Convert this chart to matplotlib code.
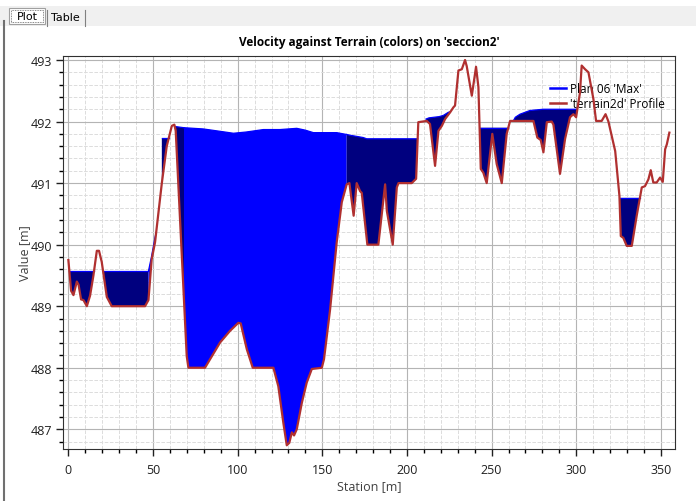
import matplotlib
matplotlib.use('Agg')
import matplotlib.pyplot as plt
from matplotlib.patches import Rectangle
from matplotlib.lines import Line2D
from matplotlib.ticker import MultipleLocator

plt.rcParams['font.family'] = ['Open Sans', 'DejaVu Sans']

# terrain profile (station [m], elevation [m])
station = [0, 1.6, 3.0, 5.0, 6.0, 7.5, 8.9, 10.9, 12.8, 14.8, 16.8, 18.1, 19.7, 22.7, 25.6,
           45.3, 47.3, 49.2, 51.2, 55.2, 58.1, 61.1, 62.6, 63.4, 68.3, 69.9, 70.9, 80.7,
           89.6, 95.5, 100.4, 101.8, 105.4, 108.9, 121.1, 124.0, 127.0, 129.0, 130.5, 132.0,
           133.3, 134.9, 137.9, 140.8, 143.8, 149.7, 151.0, 154.6, 158.5, 161.5, 164.4, 166.0,
           168.5, 170.3, 172.3, 173.3, 176.6, 183.1, 187.1, 188.1, 191.6, 194.0, 195.0, 202.8,
           205.4, 206.7, 211.7, 213.6, 216.6, 218.6, 220.6, 222.5, 225.5, 227.4, 228.4, 230.4,
           232.4, 234.3, 235.3, 238.3, 240.8, 242.2, 243.6, 245.1, 247.1, 250.4, 253.0, 256.0,
           258.9, 260.9, 274.7, 277.0, 279.0, 280.6, 282.6, 285.5, 286.5, 290.4, 293.4, 296.3,
           298.3, 299.9, 302.2, 303.2, 305.2, 307.2, 310.1, 311.7, 315.0, 317.3, 319.0, 323.0,
           325.5, 326.3, 327.8, 329.8, 332.8, 335.7, 338.7, 340.6, 342.6, 344.0, 345.5, 347.5,
           349.5, 351.1, 352.5, 353.5, 355.0]
elevation = [489.75, 489.25, 489.18, 489.40, 489.35, 489.11, 489.10, 489.00, 489.17, 489.50,
             489.90, 489.90, 489.72, 489.15, 489.00, 489.00, 489.10, 489.76, 490.04, 491.00,
             491.60, 491.93, 491.95, 491.85, 489.09, 488.19, 488.00, 488.00, 488.41, 488.60,
             488.73, 488.72, 488.30, 488.00, 488.00, 487.70, 487.10, 486.74, 486.78, 486.95,
             486.90, 487.00, 487.43, 487.76, 487.98, 488.00, 488.14, 488.95, 490.04, 490.69,
             490.98, 491.00, 490.47, 491.00, 490.87, 490.84, 490.00, 490.00, 490.98, 490.55,
             490.00, 490.93, 491.00, 491.00, 491.07, 491.99, 492.01, 491.96, 491.28, 491.85,
             491.93, 492.04, 492.15, 492.23, 492.26, 492.83, 492.85, 493.00, 492.90, 492.42,
             492.89, 492.56, 491.23, 491.17, 491.00, 491.80, 491.31, 491.00, 491.80, 492.01,
             492.01, 491.74, 491.70, 491.50, 491.99, 492.00, 491.95, 491.15, 491.72, 492.07,
             492.12, 492.07, 492.47, 492.91, 492.85, 492.80, 492.37, 492.01, 492.01, 492.12,
             492.00, 491.52, 490.79, 490.14, 490.11, 489.98, 489.98, 490.47, 490.93, 490.95,
             491.06, 491.21, 491.01, 491.01, 491.09, 491.02, 491.55, 491.63, 491.82]

# max water surface, one list per wet area, and whether velocity is high there
pool_x = [[0.58, 15.15],
          [20.5, 47.3],
          [47.3, 49.2, 51.2, 51.9],
          [55.2, 59.3],
          [62.85, 68.3],
          [68.3, 79.7, 90.0, 97.5, 105.0, 115.2, 125.0, 134.9, 140.0, 144.7, 158.5, 164.4],
          [164.4, 166.0, 174.2, 176.2, 204.8, 206.3],
          [211.2, 213.0, 216.0, 219.0, 221.5, 224.4, 225.5],
          [242.9, 259.8],
          [263.0, 264.0, 266.8, 272.7, 280.6, 297.4, 300.6],
          [325.55, 337.5]]
pool_wse = [[489.57, 489.57],
            [489.57, 489.57],
            [489.57, 489.82, 490.12, 490.20],
            [491.73, 491.73],
            [491.92, 491.90],
            [491.90, 491.88, 491.84, 491.81, 491.83, 491.87, 491.87, 491.89, 491.86, 491.82, 491.82, 491.79],
            [491.79, 491.78, 491.74, 491.72, 491.72, 491.72],
            [492.04, 492.06, 492.07, 492.08, 492.10, 492.15, 492.16],
            [491.90, 491.90],
            [492.02, 492.07, 492.12, 492.18, 492.20, 492.20, 492.20],
            [490.76, 490.76]]
pool_fast = [False, False, True, False, False, True, False, False, False, False, False]

W, H = 696, 502
fig = plt.figure(figsize=(W / 100, H / 100), dpi=100)
fig.patch.set_facecolor('white')

# window chrome: tab strip and panel border
fig.add_artist(Rectangle((0, 1 - 27 / H), 1, 20 / H, transform=fig.transFigure,
                         facecolor='#f0f0f0', edgecolor='none'))
fig.add_artist(Rectangle((9 / W, 1 - 25 / H), 36 / W, 16 / H, transform=fig.transFigure,
                         facecolor='white', edgecolor='#a0a0a0', lw=0.8))
fig.add_artist(Rectangle((11 / W, 1 - 23 / H), 32 / W, 12 / H, transform=fig.transFigure,
                         facecolor='none', edgecolor='#606060', lw=0.6, ls=(0, (1, 1))))
fig.text(27 / W, 1 - 17 / H, 'Plot', fontsize=8, ha='center', va='center', family='DejaVu Sans')
fig.add_artist(Line2D([47 / W, 47 / W], [1 - 27 / H, 1 - 11 / H], transform=fig.transFigure,
                      color='#808080', lw=0.8))
fig.add_artist(Line2D([85 / W, 85 / W], [1 - 27 / H, 1 - 11 / H], transform=fig.transFigure,
                      color='#808080', lw=0.8))
fig.text(65 / W, 1 - 18 / H, 'Table', fontsize=8, ha='center', va='center', family='DejaVu Sans')
fig.add_artist(Line2D([4 / W, 4 / W], [0, 1 - 22 / H], transform=fig.transFigure,
                      color='#707070', lw=1.5))

ax = fig.add_axes([63.3 / W, 1 - 450.3 / H, (675.3 - 63.3) / W, (450.3 - 56.7) / H])

# water areas coloured by velocity
for xs, ys, fast in zip(pool_x, pool_wse, pool_fast):
    bottom = [(s, z) for s, z in zip(station, elevation) if xs[0] <= s <= xs[-1]]
    px = list(xs) + [s for s, z in reversed(bottom)]
    py = list(ys) + [z for s, z in reversed(bottom)]
    ax.fill(px, py, color='#0000ff' if fast else '#00007f', lw=0, zorder=2)
    ax.plot(xs, ys, color='#0000ff', lw=0.9, zorder=2.5)

ax.plot(station, elevation, color='#b03030', lw=1.6, zorder=4)

ax.set_xlim(-3, 358.5)
ax.set_ylim(486.675, 493.07)
ax.xaxis.set_major_locator(MultipleLocator(50))
ax.xaxis.set_minor_locator(MultipleLocator(10))
ax.yaxis.set_major_locator(MultipleLocator(1))
ax.yaxis.set_minor_locator(MultipleLocator(0.2))
ax.grid(which='major', color='#b4b4b4', lw=0.8, zorder=0)
ax.grid(which='minor', color='#dcdcdc', lw=0.7, ls='--', zorder=0)
ax.set_axisbelow(True)
ax.tick_params(which='major', length=5, width=1, labelsize=9, colors='#202020')
ax.tick_params(axis='x', which='major', pad=5)
ax.tick_params(axis='y', which='major', pad=3)
ax.tick_params(which='minor', length=3, width=1)
for sp in ax.spines.values():
    sp.set_color('#303030')

ax.set_title("Velocity against Terrain (colors) on 'seccion2'", fontsize=8.5, fontweight='bold', pad=8)
ax.set_xlabel('Station [m]', fontsize=9, color='#404040', labelpad=2)
ax.set_ylabel('Value [m]', fontsize=9, color='#404040', labelpad=0)

handles = [Line2D([], [], color='#0000ff', lw=1.8), Line2D([], [], color='#b03030', lw=1.8)]
leg = ax.legend(handles, ["Plan 06 'Max'", "'terrain2d' Profile"], loc='upper right',
                bbox_to_anchor=(1.0, 0.96), frameon=False, fontsize=8.5, handlelength=1.4,
                handletextpad=0.3, labelspacing=0.2)
leg.set_zorder(1)

fig.savefig('out.png', dpi=100)
